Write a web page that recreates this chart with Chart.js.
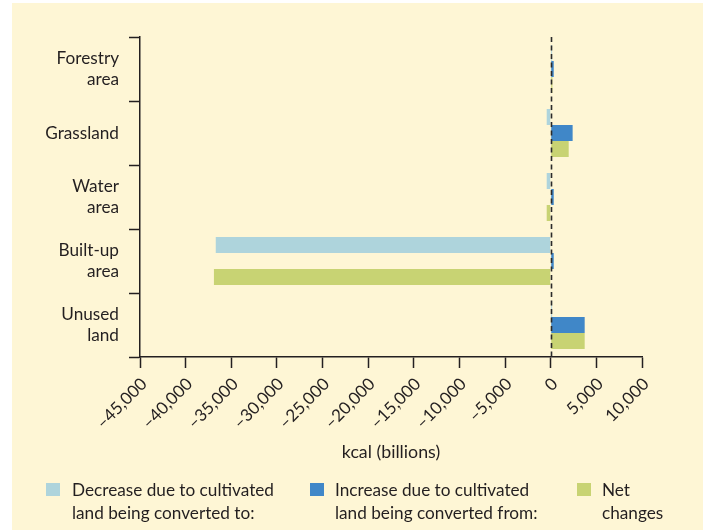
<!DOCTYPE html>
<html>
<head>
<meta charset="utf-8">
<script src="https://cdn.jsdelivr.net/npm/chart.js@4"></script>
<style>
  html, body { margin: 0; padding: 0; background: #ffffff; }
  #wrap { position: relative; width: 703px; height: 530px; overflow: hidden; }
  #bg { position: absolute; left: 12px; top: 3px; right: 0; bottom: 0; background: #fef6d5; }
  #c { position: absolute; left: 0; top: 0; }
  .lg { position: absolute; top: 478px; font-family: Lato, "Open Sans", sans-serif; font-size: 17.2px; line-height: 23px; color: #231f20; }
  .lg .sw { position: absolute; left: 0; top: 5px; width: 14px; height: 13px; }
  .lg .tx { position: absolute; white-space: nowrap; }
</style>
</head>
<body>
<div id="wrap">
  <div id="bg"></div>
  <canvas id="c" width="703" height="530"></canvas>
  <div id="legend"></div>
</div>
<script>
// ---- data ----
const categories = [["Forestry", "area"], "Grassland", ["Water", "area"], ["Built-up", "area"], ["Unused", "land"]];
const seriesNames = [
  ["Decrease due to cultivated", "land being converted to:"],
  ["Increase due to cultivated", "land being converted from:"],
  ["Net", "changes"]
];
const decreaseValues = [150, -440, -440, -36700, 150];
const increaseValues = [330, 2400, 330, 330, 3720];
const netValues = [180, 1970, -440, -36900, 3720];
const xTickMin = -45000;
const xTickMax = 10000;
const xTickStep = 5000;

// ---- styles ----
const colors = ["#aed4dc", "#4087c8", "#c8d373"];
const ink = "#231f20";
const fontFam = "Lato, 'Open Sans', sans-serif";
const legendLeft = [46, 310, 577];
const legendTextOffset = [26, 25, 25];

const zeroLine = {
  id: 'zeroLine',
  afterDatasetsDraw(chart) {
    const {ctx, chartArea, scales} = chart;
    const x = Math.round(scales.x.getPixelForValue(0)) + 0.5;
    ctx.save();
    ctx.strokeStyle = '#2b2b2b';
    ctx.lineWidth = 1.6;
    ctx.setLineDash([5, 3.5]);
    ctx.beginPath();
    ctx.moveTo(x, chartArea.top);
    ctx.lineTo(x, chartArea.bottom + 3);
    ctx.stroke();
    ctx.restore();
  }
};

const seriesValues = [decreaseValues, increaseValues, netValues];

new Chart(document.getElementById('c'), {
  type: 'bar',
  data: {
    labels: categories,
    datasets: seriesValues.map((vals, i) => ({
      label: seriesNames[i].join(' '),
      data: vals,
      backgroundColor: colors[i],
      borderWidth: 0,
      categoryPercentage: 0.75,
      barPercentage: 1.0
    }))
  },
  options: {
    indexAxis: 'y',
    responsive: false,
    animation: false,
    layout: { padding: { left: 0, top: 37, right: 61, bottom: 65 } },
    plugins: { legend: { display: false }, tooltip: { enabled: false } },
    scales: {
      y: {
        grid: { offset: true, drawOnChartArea: false, tickLength: 11, tickColor: ink, tickWidth: 1.5 },
        border: { color: ink, width: 1.5 },
        ticks: { color: ink, padding: 10, font: { family: fontFam, size: 17.2, lineHeight: 1.25 } },
        afterFit(scale) { scale.width = 140; }
      },
      x: {
        min: xTickMin,
        max: xTickMax,
        grid: { drawOnChartArea: false, tickLength: 11, tickColor: ink, tickWidth: 1.5 },
        border: { color: ink, width: 1.5 },
        ticks: {
          stepSize: xTickStep,
          minRotation: 45,
          maxRotation: 45,
          color: ink,
          padding: 6,
          labelOffset: 4,
          font: { family: fontFam, size: 17 },
          callback(v) {
            const s = Math.abs(v).toLocaleString('en-US');
            return v < 0 ? '\u2013' + s : s;
          }
        },
        title: {
          display: true,
          text: 'kcal (billions)',
          color: ink,
          font: { family: fontFam, size: 17.8 },
          padding: { top: 0, bottom: 2 }
        },
        afterFit(scale) { scale.height = 108; }
      }
    }
  },
  plugins: [zeroLine]
});

// ---- legend ----
const lg = document.getElementById('legend');
seriesNames.forEach((lines, i) => {
  const d = document.createElement('div');
  d.className = 'lg';
  d.style.left = legendLeft[i] + 'px';
  const sw = document.createElement('div');
  sw.className = 'sw';
  sw.style.background = colors[i];
  const tx = document.createElement('div');
  tx.className = 'tx';
  tx.style.left = legendTextOffset[i] + 'px';
  tx.innerHTML = lines.join('<br>');
  d.appendChild(sw);
  d.appendChild(tx);
  lg.appendChild(d);
});
</script>
</body>
</html>
